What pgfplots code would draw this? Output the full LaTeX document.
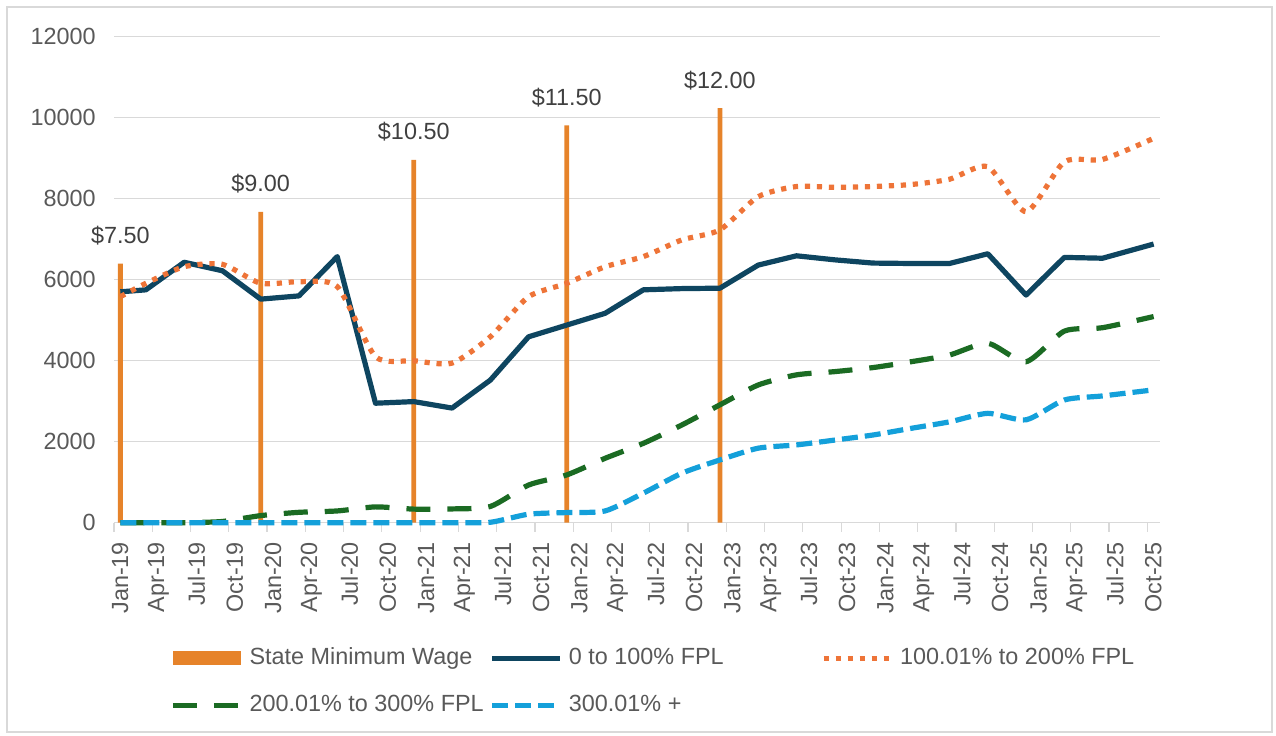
\documentclass[border=0pt]{standalone}
\usepackage{fontspec}
\setmainfont{Liberation Sans}
\usepackage{pgfplots}
\usepackage{pgfplotstable}
\pgfplotsset{compat=1.18}
\definecolor{gridc}{HTML}{D9D9D9}
\definecolor{txt}{HTML}{595959}
\definecolor{lbl}{HTML}{404040}
\definecolor{barc}{HTML}{E6832A}
\definecolor{navy}{HTML}{0E4560}
\definecolor{dotc}{HTML}{EE7438}
\definecolor{grn}{HTML}{1B6B23}
\definecolor{blu}{HTML}{14A0DA}
\pgfplotsset{
  lineleg/.style={legend image code/.code={\draw[##1] (0pt,0pt) -- (34pt,0pt);}},
  barleg/.style={legend image code/.code={\fill[barc] (0pt,-3.5pt) rectangle (34pt,3.5pt);}},
}

\pgfplotstableread{
x     navy  orange green blue
0.5   5700  5580   0     0
2.5   5750  5910   0     0
5.5   6430  6320   0     0
8.5   6220  6380   30    0
11.5  5520  5910   175   0
14.5  5600  5950   256   0
17.5  6570  5830   290   0
20.5  2950  4100   390   0
23.5  2990  4000   335   0
26.5  2830  3940   340   0
29.5  3520  4590   400   10
32.5  4590  5580   930   210
35.5  4880  5910   1180  250
38.5  5170  6320   1590  290
41.5  5750  6570   1960  730
44.5  5780  6980   2410  1220
47.5  5790  7230   2910  1550
50.5  6360  8050   3400  1840
53.5  6590  8300   3650  1920
56.5  6490  8280   3730  2040
59.5  6410  8300   3830  2165
62.5  6400  8350   3975  2330
65.5  6400  8480   4140  2490
68.5  6640  8790   4430  2700
71.5  5620  7680   3975  2540
74.5  6550  8910   4730  3030
77.5  6530  8970   4815  3130
81.5  6880  9490   5090  3280
}\lines

\begin{document}
\begin{tikzpicture}
\begin{axis}[
  scale only axis, width=523pt, height=243pt,
  xmin=0, xmax=82, ymin=0, ymax=12000,
  axis x line*=bottom, axis y line*=left,
  x axis line style={gridc, line width=0.6pt, -},
  y axis line style={draw=none},
  xtick={0,3,...,81},
  xticklabels={Jan-19,Apr-19,Jul-19,Oct-19,Jan-20,Apr-20,Jul-20,Oct-20,Jan-21,Apr-21,Jul-21,Oct-21,Jan-22,Apr-22,Jul-22,Oct-22,Jan-23,Apr-23,Jul-23,Oct-23,Jan-24,Apr-24,Jul-24,Oct-24,Jan-25,Apr-25,Jul-25,Oct-25},
  ytick={0,2000,...,12000},
  ymajorgrids, grid style={gridc, line width=0.6pt},
  tick align=outside, major tick length=4.5pt,
  xtick style={gridc, line width=0.6pt},
  ytick style={draw=none},
  tick label style={font=\fontsize{11.7}{14}\selectfont, text=txt},
  x tick label style={xshift=3pt, rotate=90, anchor=east, inner sep=0pt},
  xticklabel shift=5pt,
  y tick label style={anchor=east, inner sep=0pt},
  yticklabel shift=4.5pt,
  scaled y ticks=false,
  clip=false,
  legend columns=3,
  legend style={at={(0.0535,-0.2545)}, anchor=north west, draw=none, fill=none,
    inner sep=0pt, /tikz/column sep=3pt, /tikz/row sep=12pt,
    nodes={inner sep=0pt, anchor=west, text height=9pt, text depth=2.5pt,
      font=\fontsize{11.7}{14}\selectfont, text=txt}},
  legend cell align=left,
  /pgf/number format/1000 sep={},
  /pgf/number format/assume math mode=true,
]
\path (rel axis cs:-0.10899,-0.43889) rectangle (rel axis cs:1.11090,1.07551);
\draw[gridc, line width=0.6pt] (rel axis cs:-0.10229,-0.43066) rectangle (rel axis cs:1.10707,1.06111);
\addplot[ybar, bar width=2.4pt, bar shift=0pt, fill=barc, draw=none,
  point meta=explicit symbolic, nodes near coords,
  every node near coord/.append style={font=\fontsize{11.7}{14}\selectfont, text=lbl, inner sep=0pt, anchor=south, yshift=9pt},
  barleg]
  coordinates {(0.5,6398) [\$7.50] (11.5,7677) [\$9.00] (23.5,8957) [\$10.50] (35.5,9810) [\$11.50] (47.5,10236) [\$12.00]};
\addlegendentry{State Minimum Wage}
\addplot[navy, line width=2.6pt, line join=round, lineleg]
  table[x=x, y=navy] {\lines};
\addlegendentry{\makebox[123pt][l]{0 to 100\% FPL}}
\addplot[dotc, line width=2.6pt, dash pattern=on 2.6pt off 3.4pt, smooth, tension=0.4, lineleg]
  table[x=x, y=orange] {\lines};
\addlegendentry{100.01\% to 200\% FPL}
\addplot[grn, line width=2.6pt, dash pattern=on 12pt off 8.5pt, smooth, tension=0.4, lineleg]
  table[x=x, y=green] {\lines};
\addlegendentry{200.01\% to 300\% FPL}
\addplot[blu, line width=2.6pt, dash pattern=on 8pt off 3.5pt, smooth, tension=0.4, lineleg]
  table[x=x, y=blue] {\lines};
\addlegendentry{\makebox[123pt][l]{300.01\% +}}
\end{axis}
\end{tikzpicture}
\end{document}
